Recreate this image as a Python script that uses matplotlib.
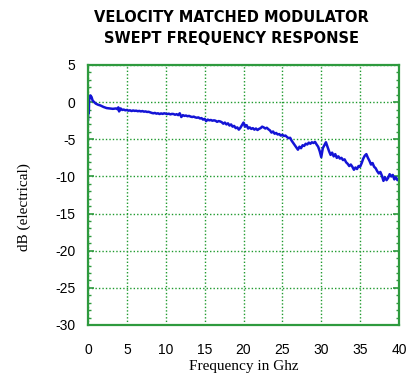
import matplotlib
matplotlib.use("Agg")
import matplotlib.pyplot as plt
from matplotlib.ticker import MultipleLocator

freq_start = [0.0, 0.05, 0.1, 0.15, 0.3, 0.45, 0.6, 0.8, 1.0, 1.3, 1.6, 2.0, 2.4, 2.8, 3.2, 3.6, 3.8, 3.9, 4.0]
db_start = [-2.4, 0.5, -1.5, 0.3, 0.9, 0.7, 0.2, 0.0, -0.2, -0.35, -0.45, -0.65, -0.8, -0.85, -0.9, -0.85, -0.95, -0.7, -1.25]

freq_sweep = [
    4.2, 4.4, 4.6, 4.8, 5.0, 5.2, 5.4, 5.6, 5.8, 6.0,
    6.2, 6.4, 6.6, 6.8, 7.0, 7.2, 7.4, 7.6, 7.8, 8.0,
    8.2, 8.4, 8.6, 8.8, 9.0, 9.2, 9.4, 9.6, 9.8, 10.0,
    10.2, 10.4, 10.6, 10.8, 11.0, 11.2, 11.4, 11.6, 11.8, 12.0,
    12.2, 12.4, 12.6, 12.8, 13.0, 13.2, 13.4, 13.6, 13.8, 14.0,
    14.2, 14.4, 14.6, 14.8, 15.0, 15.2, 15.4, 15.6, 15.8, 16.0,
    16.2, 16.4, 16.6, 16.8, 17.0, 17.2, 17.4, 17.6, 17.8, 18.0,
    18.2, 18.4, 18.6, 18.8, 19.0, 19.2, 19.4, 19.6, 19.8, 20.0,
    20.2, 20.4, 20.6, 20.8, 21.0, 21.2, 21.4, 21.6, 21.8, 22.0,
    22.2, 22.4, 22.6, 22.8, 23.0, 23.2, 23.4, 23.6, 23.8, 24.0,
    24.2, 24.4, 24.6, 24.8, 25.0, 25.2, 25.4, 25.6, 25.8, 26.0,
    26.2, 26.4, 26.6, 26.8, 27.0, 27.2, 27.4, 27.6, 27.8, 28.0,
    28.2, 28.4, 28.6, 28.8, 29.0, 29.2, 29.4, 29.6, 29.8, 30.0,
    30.2, 30.4, 30.6, 30.8, 31.0, 31.2, 31.4, 31.6, 31.8, 32.0,
    32.2, 32.4, 32.6, 32.8, 33.0, 33.2, 33.4, 33.6, 33.8, 34.0,
    34.2, 34.4, 34.6, 34.8, 35.0, 35.2, 35.4, 35.6, 35.8, 36.0,
    36.2, 36.4, 36.6, 36.8, 37.0, 37.2, 37.4, 37.6, 37.8, 38.0,
    38.2, 38.4, 38.6, 38.8, 39.0, 39.2, 39.4, 39.6, 39.8, 40.0]
db_sweep = [
    -0.85, -1.05, -1.0, -1.1, -1.05, -1.15, -1.1, -1.2, -1.12, -1.18,
    -1.15, -1.22, -1.18, -1.25, -1.2, -1.28, -1.25, -1.32, -1.3, -1.38,
    -1.45, -1.5, -1.45, -1.55, -1.5, -1.6, -1.52, -1.58, -1.5, -1.55,
    -1.6, -1.55, -1.65, -1.58, -1.6, -1.7, -1.62, -1.75, -1.5, -2.0,
    -1.75, -1.85, -1.8, -1.9, -1.85, -1.95, -2.0, -1.95, -2.05, -2.1,
    -2.05, -2.2, -2.15, -2.35, -2.25, -2.55, -2.35, -2.45, -2.4, -2.5,
    -2.45, -2.5, -2.65, -2.55, -2.6, -2.7, -2.9, -2.75, -3.0, -2.85,
    -3.15, -3.0, -3.3, -3.2, -3.5, -3.4, -3.7, -3.45, -3.1, -2.75,
    -3.3, -3.1, -3.55, -3.4, -3.6, -3.5, -3.7, -3.55, -3.75, -3.6,
    -3.5, -3.3, -3.4, -3.55, -3.45, -3.65, -3.8, -4.1, -3.95, -4.25,
    -4.15, -4.35, -4.3, -4.5, -4.4, -4.55, -4.5, -4.7, -4.85, -4.8,
    -5.2, -5.5, -5.8, -6.1, -6.4, -6.0, -6.2, -5.8, -5.9, -5.6,
    -5.7, -5.45, -5.6, -5.4, -5.5, -5.35, -5.7, -6.0, -6.6, -7.4,
    -6.2, -5.8, -5.4, -6.0, -6.6, -7.1, -6.8, -7.3, -7.0, -7.5,
    -7.3, -7.6, -7.5, -7.8, -7.7, -8.1, -8.3, -8.6, -8.4, -8.7,
    -9.1, -8.8, -9.0, -8.6, -8.7, -8.2, -7.6, -7.2, -7.0, -7.5,
    -7.9, -8.4, -8.2, -8.7, -8.9, -9.3, -9.6, -9.4, -9.9, -10.6,
    -10.1, -10.5, -10.2, -9.7, -10.0, -9.8, -10.4, -10.1, -10.5, -10.3]

xticks = [0, 5, 10, 15, 20, 25, 30, 35, 40]
yticks = [5, 0, -5, -10, -15, -20, -25, -30]

title = "VELOCITY MATCHED MODULATOR\nSWEPT FREQUENCY RESPONSE"
xlabel = "Frequency in Ghz"
ylabel = "dB (electrical)"

W, H = 409, 379
fig = plt.figure(figsize=(W / 100, H / 100), dpi=100)
ax = fig.add_axes([88 / W, 1 - 325 / H, (399 - 88) / W, (325 - 65) / H])

green = "#2e9a3e"
ax.plot(freq_start + freq_sweep, db_start + db_sweep, color="#1414d6", lw=1.8)

ax.set_xlim(0, 40)
ax.set_ylim(-30, 5)
ax.set_xticks(xticks)
ax.set_xticklabels([str(v) for v in xticks])
ax.set_yticks(yticks)
ax.set_yticklabels([str(v) for v in yticks])
ax.yaxis.set_minor_locator(MultipleLocator(1))

ax.grid(True, which="major", color="#1f9a2e", linestyle=(0, (1, 1.5)), lw=1.0)
for s in ax.spines.values():
    s.set_color(green)
    s.set_linewidth(1.6)

ax.tick_params(axis="x", which="both", length=0, pad=13, labelsize=10)
ax.tick_params(axis="y", which="major", direction="in", length=4, width=1.2, color=green,
               left=True, right=True, pad=9, labelsize=10)
ax.tick_params(axis="y", which="minor", direction="in", length=2.5, width=1.0, color=green,
               left=True, right=True)
for lab in ax.get_xticklabels() + ax.get_yticklabels():
    lab.set_fontfamily("Liberation Sans")

ax.set_xlabel(xlabel, fontfamily="Liberation Serif", fontsize=11, labelpad=2)
ax.set_ylabel(ylabel, fontfamily="Liberation Serif", fontsize=11)
ax.yaxis.set_label_coords(-0.183, 0.455)

fig.text(231 / W, 1 - 28 / H, title, ha="center", va="center", fontsize=10.5,
         fontweight="bold", fontfamily="DejaVu Sans", linespacing=1.45)

fig.savefig("out.png", dpi=100)
